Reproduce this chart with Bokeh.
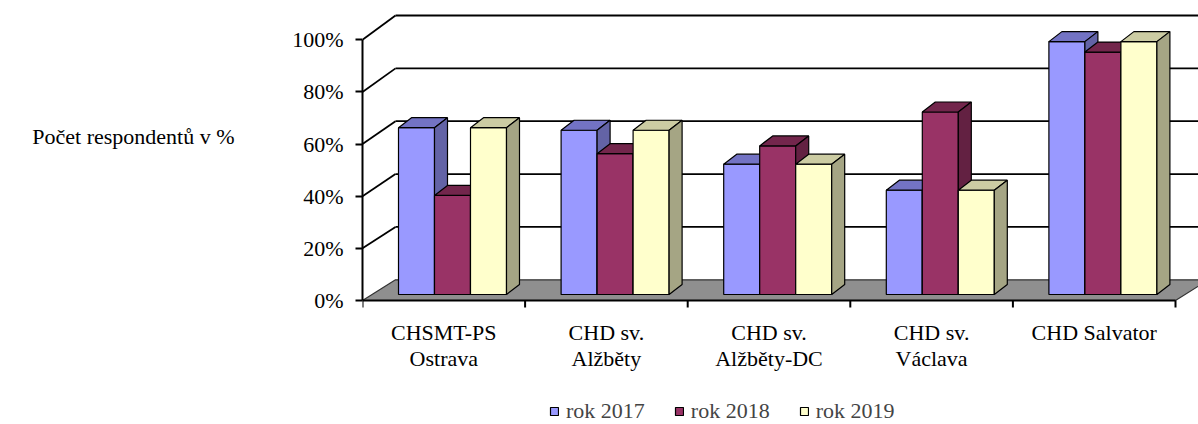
from bokeh.plotting import figure
from bokeh.models import (Range1d, FixedTicker, PrintfTickFormatter, Legend, LegendItem,
                          LinearAxis)
from bokeh.core.properties import value
from bokeh.embed import file_html
from bokeh.resources import INLINE

# ---- data ----
cat_line1 = ["CHSMT-PS", "CHD sv.", "CHD sv.", "CHD sv.", "CHD Salvator"]
cat_line2 = ["Ostrava", "Alžběty", "Alžběty-DC", "Václava", ""]
rok_2017 = [64, 63, 50, 40, 97]
rok_2018 = [38, 54, 57, 70, 93]
rok_2019 = [64, 63, 50, 40, 97]
series_names = ["rok 2017", "rok 2018", "rok 2019"]
y_ticks = [0, 20, 40, 60, 80, 100]
y_label = "Počet respondentů v %"

# ---- styles ----
FRONT = ["#9999FF", "#993366", "#FFFFCC"]
TOP = ["#7373C4", "#73264C", "#CCCCA3"]
SIDE = ["#6363A6", "#632142", "#A5A584"]
FONT = "Liberation Serif"
FS = "22px"

# ---- geometry (pixels -> data units) ----
W, H = 1198, 424
LEFT = 362                 # x of value axis
PX_X = 162.6               # px per category
PX_Y = 2.607               # px per percent (front plane)
Y0_TOP = 300               # y of 0% (front plane), from top
n = len(cat_line1)

WALL_DX = 33 / PX_X
def back_y(v):
    return (20.7 + v * 2.643) / PX_Y

BAR_OFF = 36 / PX_X
BAR_W = 36 / PX_X
BAR_BASE = 6 / PX_Y
BAR_DX = 13 / PX_X
BAR_DY = 10 / PX_Y

p = figure(width=W, height=H, output_backend="svg", toolbar_location=None,
           x_range=Range1d(0, (W - LEFT) / PX_X),
           y_range=Range1d(-(H - Y0_TOP) / PX_Y, Y0_TOP / PX_Y),
           x_axis_location=None, min_border_left=LEFT, min_border_right=0,
           min_border_top=0, min_border_bottom=0)
p.grid.visible = False
p.outline_line_color = None
p.background_fill_color = "white"

# value axis
ax = p.yaxis[0]
ax.ticker = FixedTicker(ticks=y_ticks)
ax.formatter = PrintfTickFormatter(format="%d%%")
ax.bounds = (0, 100)
ax.axis_line_color = "black"
ax.axis_line_width = 2
ax.major_tick_line_color = "black"
ax.major_tick_line_width = 2
ax.major_tick_out = 7
ax.major_tick_in = 0
ax.minor_tick_out = 0
ax.minor_tick_in = 0
ax.major_label_standoff = 12
ax.major_label_text_font = FONT
ax.major_label_text_font_size = FS
ax.major_label_text_color = "black"

# horizontal value-axis title, placed as a single labelled tick on an outer axis
TITLE_Y = 63
title_axis = LinearAxis(ticker=FixedTicker(ticks=[TITLE_Y]),
                        major_label_overrides={TITLE_Y: y_label},
                        axis_line_color=None, major_tick_line_color=None,
                        minor_tick_line_color=None, major_tick_out=0, major_tick_in=0,
                        major_label_standoff=55, major_label_text_font=FONT,
                        major_label_text_font_size=FS, major_label_text_color="black")
p.add_layout(title_axis, "left")

# floor
xend = float(n)
p.patch([0, xend, xend + WALL_DX, WALL_DX], [0, 0, back_y(0), back_y(0)],
        fill_color="#8F8F8F", line_color="#333333", line_width=1.2)

# walls: gridlines (side diagonals + back horizontals)
gv = [v for v in y_ticks if v > 0]
p.segment(x0=[0] * len(gv), y0=gv, x1=[WALL_DX] * len(gv), y1=[back_y(v) for v in gv],
          line_color="black", line_width=1.8)
p.segment(x0=[WALL_DX] * len(gv), y0=[back_y(v) for v in gv],
          x1=[xend + WALL_DX + 0.2] * len(gv), y1=[back_y(v) for v in gv],
          line_color="black", line_width=1.8)

# category axis (front edge of floor) and ticks
p.segment(x0=[0], y0=[0], x1=[xend], y1=[0], line_color="black", line_width=2)
tick_x = list(range(n + 1))
p.segment(x0=tick_x, y0=[0] * len(tick_x), x1=tick_x, y1=[-7 / PX_Y] * len(tick_x),
          line_color="black", line_width=2)

# bars
legend_items = []
for j, vals in enumerate([rok_2017, rok_2018, rok_2019]):
    lefts = [i + BAR_OFF + j * BAR_W for i in range(n)]
    rights = [l + BAR_W for l in lefts]
    bottoms = [BAR_BASE] * n
    tops = [BAR_BASE + v for v in vals]
    fr = p.quad(left=lefts, right=rights, bottom=bottoms, top=tops,
                fill_color=FRONT[j], line_color="black", line_width=1.2)
    top_xs = [[l, r, r + BAR_DX, l + BAR_DX] for l, r in zip(lefts, rights)]
    top_ys = [[t, t, t + BAR_DY, t + BAR_DY] for t in tops]
    p.patches(top_xs, top_ys, fill_color=TOP[j], line_color="black", line_width=1.2)
    side_xs = [[r, r + BAR_DX, r + BAR_DX, r] for r in rights]
    side_ys = [[b, b + BAR_DY, t + BAR_DY, t] for b, t in zip(bottoms, tops)]
    p.patches(side_xs, side_ys, fill_color=SIDE[j], line_color="black", line_width=1.2)
    legend_items.append(LegendItem(label=series_names[j], renderers=[fr]))

# category labels
cx = [i + 0.5 for i in range(n)]
p.text(x=cx, y=[-(332 - Y0_TOP) / PX_Y] * n, text=cat_line1, text_align="center",
       text_baseline="alphabetic", text_font=value(FONT), text_font_size=value(FS),
       text_color="black")
p.text(x=cx, y=[-(358 - Y0_TOP) / PX_Y] * n, text=cat_line2, text_align="center",
       text_baseline="alphabetic", text_font=value(FONT), text_font_size=value(FS),
       text_color="black")

legend = Legend(items=legend_items, orientation="horizontal", location=(187, 0),
                glyph_width=10, glyph_height=10, label_standoff=7, spacing=29,
                padding=0, margin=0, label_text_font=FONT, label_text_font_size=FS,
                border_line_color=None, background_fill_alpha=0)
p.add_layout(legend)

open("out.html", "w").write(file_html(p, INLINE))
